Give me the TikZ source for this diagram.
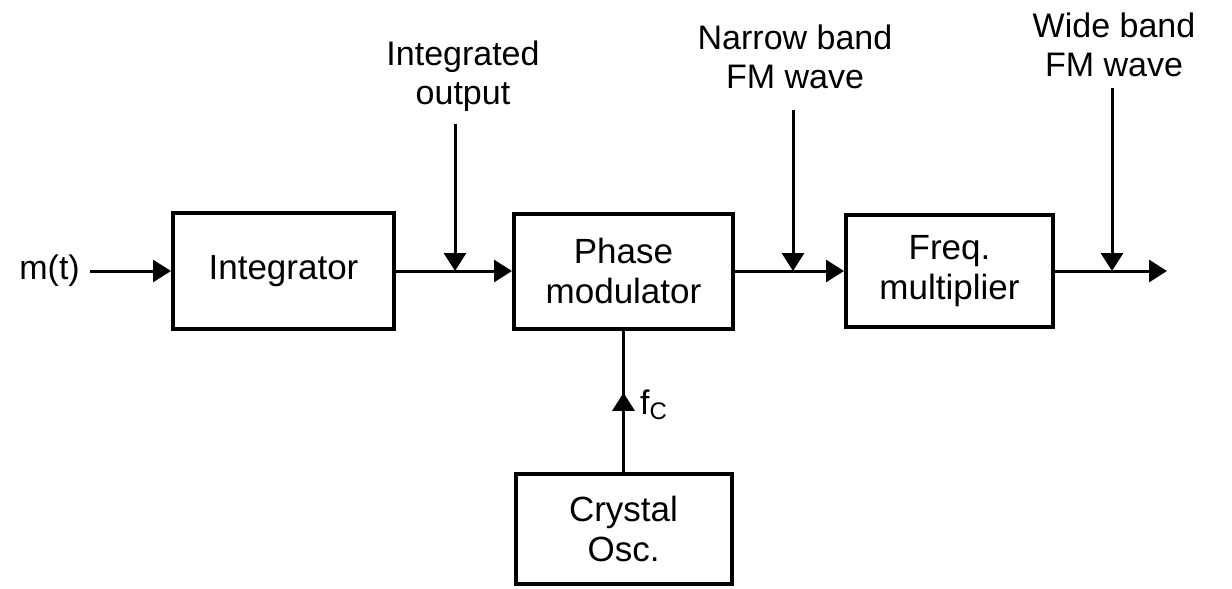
\documentclass[tikz,border=0pt]{standalone}
\usepackage{fontspec}
\setmainfont{Liberation Sans}
\usetikzlibrary{arrows.meta,decorations.markings}
\begin{document}
\begin{tikzpicture}[x=1pt,y=-1pt,
  blk/.style={draw,line width=4pt,inner sep=0pt,align=center,font=\fontsize{35}{40}\selectfont},
  lbl/.style={align=center,inner sep=0pt,font=\fontsize{34}{39}\selectfont},
  conn/.style={line width=3pt},
  tip/.style={-{Triangle[length=18pt,width=22pt]}},
  arr/.style={conn,tip},
]
\useasboundingbox (0,0) rectangle (1232,589);
% blocks
\node[blk,minimum width=221pt,minimum height=116pt] (int) at (283.5,271) {Integrator};
\node[blk,minimum width=219pt,minimum height=115pt] (pm) at (623.5,271) {Phase\\modulator};
\node[blk,minimum width=207pt,minimum height=112pt] (fm) at (949.5,271) {Freq.\\multiplier};
\node[blk,minimum width=216pt,minimum height=110pt] (cry) at (623.5,529) {Crystal\\Osc.};
% labels
\node[lbl,anchor=east,inner xsep=10pt] (m) at (90,271) {m(t)};
\node[lbl] (io) at (463,76) {Integrated\\output};
\node[lbl] (nb) at (795,57) {Narrow band\\FM wave};
\node[lbl] (wb) at (1114,45) {Wide band\\FM wave};
\node[anchor=west,inner sep=0pt,font=\fontsize{34}{39}\selectfont] (fc) at (640,405) {f\raisebox{-0.3ex}{\fontsize{24}{24}\selectfont C}};
% junction coordinates
\coordinate (j1) at (455,271);
\coordinate (j2) at (793,271);
\coordinate (j3) at (1112,271);
\coordinate (out) at (1167,271);
\coordinate (t1) at (455,124);
\coordinate (t2) at (793,110);
\coordinate (t3) at (1112,88);
% connectors
\draw[arr] (m) -- (int);
\draw[arr] (int) -- (pm);
\draw[arr] (pm) -- (fm);
\draw[arr] (fm) -- (out);
\draw[arr] (t1) -- (j1);
\draw[arr] (t2) -- (j2);
\draw[arr] (t3) -- (j3);
\draw[conn,postaction={decorate},decoration={markings,mark=at position 0.56 with {\arrow{Triangle[length=18pt,width=22pt]}}}] (cry) -- (pm);
\end{tikzpicture}
\end{document}
